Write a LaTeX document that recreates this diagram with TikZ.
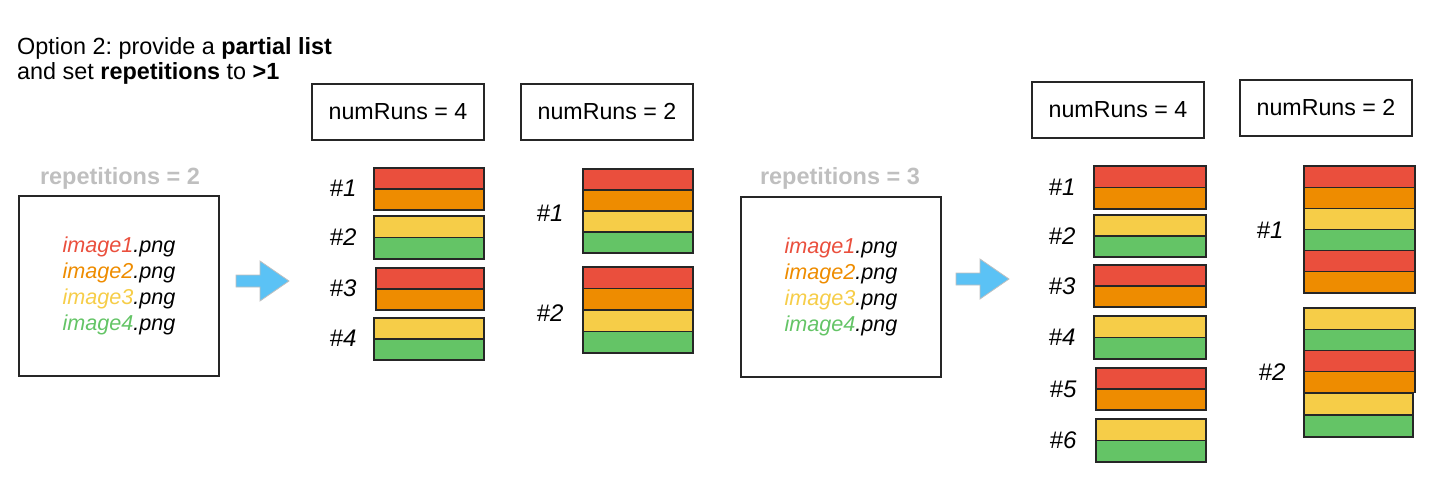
\documentclass[tikz,border=0pt]{standalone}
\usepackage{fontspec}
\setmainfont{Liberation Sans}
\frenchspacing
\definecolor{cred}{HTML}{EA4F3D}
\definecolor{corg}{HTML}{EE8C00}
\definecolor{cyel}{HTML}{F6CD48}
\definecolor{cgrn}{HTML}{64C466}
\definecolor{cgray}{HTML}{BFBFBF}
\definecolor{cblue}{HTML}{5BC2F5}
\newcommand\mkstack[5]{%
  \foreach \cc [count=\ii from 0] in {#5} {
    \filldraw[stripe, fill=\cc] (#1,{#3+\ii*#4}) rectangle (#2,{#3+(\ii+1)*#4});
  }}
\newcommand\mkarrow[4]{% x0 xh x1 yc
  \filldraw[blockarrow] (#1,{#4-6}) -- (#2,{#4-6}) -- (#2,{#4-20}) -- (#3,#4) -- (#2,{#4+20}) -- (#2,{#4+6}) -- (#1,{#4+6}) -- cycle;}
\begin{document}
\begin{tikzpicture}[x=1pt,y=-1pt,
  stripe/.style={draw=black!85, line width=1.2pt},
  blockarrow/.style={fill=cblue, draw=black!25, line width=0.8pt},
  titletext/.style={anchor=base west, inner sep=0pt, font=\fontsize{23.4}{26}\selectfont},
  runbox/.style={draw=black!85, line width=1.2pt, minimum width=172pt, minimum height=56pt, inner sep=0pt, font=\fontsize{23.2}{26}\selectfont},
  imgbox/.style={draw=black!85, line width=1.2pt, minimum width=200pt, minimum height=180pt, inner sep=0pt, align=center, font=\fontsize{21.6}{26.2}\selectfont\itshape},
  replbl/.style={text=cgray, inner sep=0pt, font=\fontsize{23.5}{26}\selectfont\bfseries},
  runlbl/.style={inner sep=0pt, font=\fontsize{24}{26}\selectfont\itshape}
]
\useasboundingbox (0,0) rectangle (1443,491);
% title
\node[titletext] (t1) at (17,54) {Option 2: provide a \textbf{partial list}};
\node[titletext] (t2) at (17,79) {and set \textbf{repetitions} to \textbf{>1}};
% left input
\node[replbl] (rep2) at (120,178) {repetitions = 2};
\node[imgbox] (box1) at (119,286) {{\color{cred}image1}.png\\{\color{corg}image2}.png\\{\color{cyel}image3}.png\\{\color{cgrn}image4}.png};
\mkarrow{236}{260}{289}{281}
% numRuns boxes left
\node[runbox] (nr1) at (398,112) {numRuns = 4};
\node[runbox] (nr2) at (607,112) {numRuns = 2};
% group A
\mkstack{374}{484}{168}{21}{cred,corg}
\mkstack{374}{484}{216}{21.5}{cyel,cgrn}
\mkstack{376}{484}{268}{21}{cred,corg}
\mkstack{374}{484}{318}{21}{cyel,cgrn}
\node[runlbl] (a1) at (343,188) {\#1};
\node[runlbl] (a2) at (343,237) {\#2};
\node[runlbl] (a3) at (343,288) {\#3};
\node[runlbl] (a4) at (343,338) {\#4};
% group B
\mkstack{583}{693}{169}{21}{cred,corg,cyel,cgrn}
\mkstack{583}{693}{267}{21.5}{cred,corg,cyel,cgrn}
\node[runlbl] (b1) at (550,213) {\#1};
\node[runlbl] (b2) at (550,313) {\#2};
% middle input
\node[replbl] (rep3) at (840,178) {repetitions = 3};
\node[imgbox] (box2) at (841,287) {{\color{cred}image1}.png\\{\color{corg}image2}.png\\{\color{cyel}image3}.png\\{\color{cgrn}image4}.png};
\mkarrow{956}{980}{1009}{279}
% numRuns boxes right
\node[runbox] (nr3) at (1118,110) {numRuns = 4};
\node[runbox] (nr4) at (1326,108) {numRuns = 2};
% group C
\mkstack{1094}{1206}{166}{21.5}{cred,corg}
\mkstack{1094}{1206}{215}{21}{cyel,cgrn}
\mkstack{1094}{1206}{265}{21}{cred,corg}
\mkstack{1094}{1206}{316}{21.5}{cyel,cgrn}
\mkstack{1096}{1206}{368}{21}{cred,corg}
\mkstack{1096}{1206}{419}{21.5}{cyel,cgrn}
\node[runlbl] (c1) at (1062,187) {\#1};
\node[runlbl] (c2) at (1062,236) {\#2};
\node[runlbl] (c3) at (1062,286) {\#3};
\node[runlbl] (c4) at (1062,337) {\#4};
\node[runlbl] (c5) at (1063,389) {\#5};
\node[runlbl] (c6) at (1063,440) {\#6};
% group D
\mkstack{1304}{1415}{166}{21.17}{cred,corg,cyel,cgrn,cred,corg}
\mkstack{1304}{1415}{308}{21.2}{cyel,cgrn,cred,corg}
\mkstack{1304}{1413}{393}{22}{cyel,cgrn}
\node[runlbl] (d1) at (1270,230) {\#1};
\node[runlbl] (d2) at (1272,372) {\#2};
\end{tikzpicture}
\end{document}
